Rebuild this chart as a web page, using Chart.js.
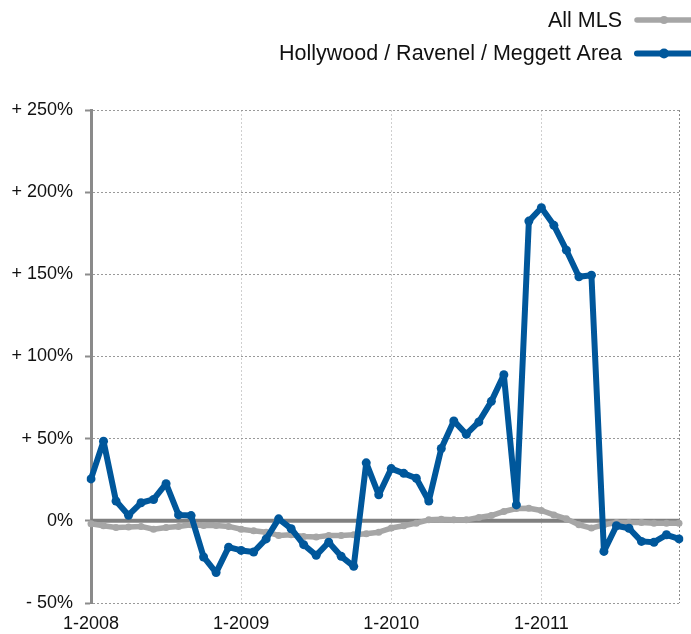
<!DOCTYPE html>
<html>
<head>
<meta charset="utf-8">
<script src="https://cdn.jsdelivr.net/npm/chart.js@4/dist/chart.umd.min.js"></script>
<style>
  body { margin: 0; background: #fff; }
  canvas { display: block; }
</style>
</head>
<body>
<canvas id="chart" width="691" height="634"></canvas>
<script>
// month labels 1-2008 .. 12-2011
var years = [2008, 2009, 2010, 2011];
var months = [];
years.forEach(function (y) {
    for (var m = 1; m <= 12; m++) {
        months.push(m + "-" + y);
    }
});

var seriesNames = ["All MLS", "Hollywood / Ravenel / Meggett Area"];

// percent change
var allMLS = [
    -1.8, -3.0, -4.0, -3.8, -3.4, -5.1, -4.0, -3.4, -2.4, -2.8, -2.8, -3.4,
    -5.1, -6.1, -6.9, -8.9, -8.5, -9.5, -9.9, -8.9, -8.9, -8.5, -7.9, -6.9,
    -4.4, -3.0, -1.4, 0.6, 1.0, 0.6, 0.6, 2.0, 3.2, 5.7, 7.5, 7.7,
    6.3, 3.6, 1.2, -2.4, -4.4, -2.4, -1.0, -1.0, -1.0, -1.4, -1.4, -1.4
];

var hollywood = [
    25.5, 48.5, 12, 3.4, 11, 13, 22.6, 3.6, 3.2, -22, -31.5, -16,
    -18, -19, -11, 1.2, -4.8, -14.5, -21, -13, -21.6, -27.7, 35.3, 15.8,
    31.8, 28.9, 25.9, 12.1, 44, 60.8, 52.7, 60.2, 72.7, 88.9, 9.7, 182.4,
    190.5, 179.8, 164.7, 148.5, 149.5, -18.6, -3, -4.5, -12.5, -13, -8.5, -11
];

var yMin = -50, yMax = 250, yStep = 50;

var grayColor = "#a6a6a6";
var blueColor = "#00579b";
var fontFamily = "'Liberation Sans', Arial, Helvetica, sans-serif";

// solid zero line under the data
var zeroLine = {
    id: "zeroLine",
    beforeDatasetsDraw: function (chart) {
        var ctx = chart.ctx;
        var area = chart.chartArea;
        var y = chart.scales.y.getPixelForValue(0);
        ctx.save();
        ctx.strokeStyle = "#808080";
        ctx.lineWidth = 4;
        ctx.beginPath();
        ctx.moveTo(area.left, y);
        ctx.lineTo(area.right, y);
        ctx.stroke();
        ctx.restore();
    }
};

// legend at top right: text then line sample with a dot
var sideLegend = {
    id: "sideLegend",
    afterDraw: function (chart) {
        var ctx = chart.ctx;
        var rows = [20, 53.5];
        ctx.save();
        ctx.font = "21.5px " + fontFamily;
        ctx.textAlign = "right";
        ctx.textBaseline = "middle";
        chart.data.datasets.forEach(function (ds, i) {
            var y = rows[i];
            ctx.fillStyle = "#111";
            ctx.fillText(ds.label, 622, y + 1);
            ctx.strokeStyle = ds.borderColor;
            ctx.lineWidth = ds.borderWidth;
            ctx.lineCap = "round";
            ctx.beginPath();
            ctx.moveTo(637, y);
            ctx.lineTo(695, y);
            ctx.stroke();
            ctx.fillStyle = ds.borderColor;
            ctx.beginPath();
            ctx.arc(664, y, ds.pointRadius + 0.5, 0, Math.PI * 2);
            ctx.fill();
        });
        ctx.restore();
    }
};

var config = {
    type: "line",
    data: {
        labels: months,
        datasets: [{
            label: seriesNames[0],
            data: allMLS,
            borderColor: grayColor,
            backgroundColor: grayColor,
            borderWidth: 5.5,
            borderJoinStyle: "round",
            borderCapStyle: "round",
            pointRadius: 3.5,
            pointBorderWidth: 0,
            tension: 0,
            order: 1
        }, {
            label: seriesNames[1],
            data: hollywood,
            borderColor: blueColor,
            backgroundColor: blueColor,
            borderWidth: 6,
            borderJoinStyle: "round",
            borderCapStyle: "round",
            pointRadius: 4.5,
            pointBorderWidth: 0,
            tension: 0,
            order: 0
        }]
    },
    options: {
        responsive: false,
        animation: false,
        layout: {
            padding: { top: 110, right: 12, left: 0, bottom: 0 }
        },
        plugins: {
            legend: { display: false },
            tooltip: { enabled: false }
        },
        scales: {
            x: {
                offset: false,
                afterBuildTicks: function (scale) {
                    scale.ticks = scale.ticks.filter(function (t) {
                        return t.value % 12 === 0 || t.value === months.length - 1;
                    });
                },
                afterFit: function (scale) {
                    scale.height = 31;
                },
                ticks: {
                    autoSkip: false,
                    maxRotation: 0,
                    padding: 10,
                    color: "#111",
                    font: { family: fontFamily, size: 18 },
                    callback: function (value) {
                        if (value === months.length - 1) return "";
                        return this.getLabelForValue(value);
                    }
                },
                grid: {
                    drawTicks: false,
                    lineWidth: 1,
                    color: function (c) {
                        if (!c.tick) return "transparent";
                        if (c.tick.value === months.length - 1) return "#8c8c8c";
                        if (c.tick.value === 0) return "transparent";
                        return "#cfcfcf";
                    }
                },
                border: { display: false, dash: [2, 2] }
            },
            y: {
                min: yMin,
                max: yMax,
                afterFit: function (scale) {
                    scale.width = 91;
                },
                ticks: {
                    stepSize: yStep,
                    padding: 12,
                    color: "#111",
                    font: { family: fontFamily, size: 18 },
                    callback: function (v) {
                        if (v > 0) return "+ " + v + "%";
                        if (v < 0) return "- " + Math.abs(v) + "%";
                        return "0%";
                    }
                },
                grid: {
                    color: "#999999",
                    lineWidth: 1,
                    tickLength: 6,
                    tickColor: "#8c8c8c",
                    tickWidth: 2
                },
                border: { display: true, color: "#8a8a8a", width: 3, dash: [2, 2] }
            }
        }
    },
    plugins: [zeroLine, sideLegend]
};

var ctx = document.getElementById("chart");
window.myChart = new Chart(ctx, config);
</script>
</body>
</html>
